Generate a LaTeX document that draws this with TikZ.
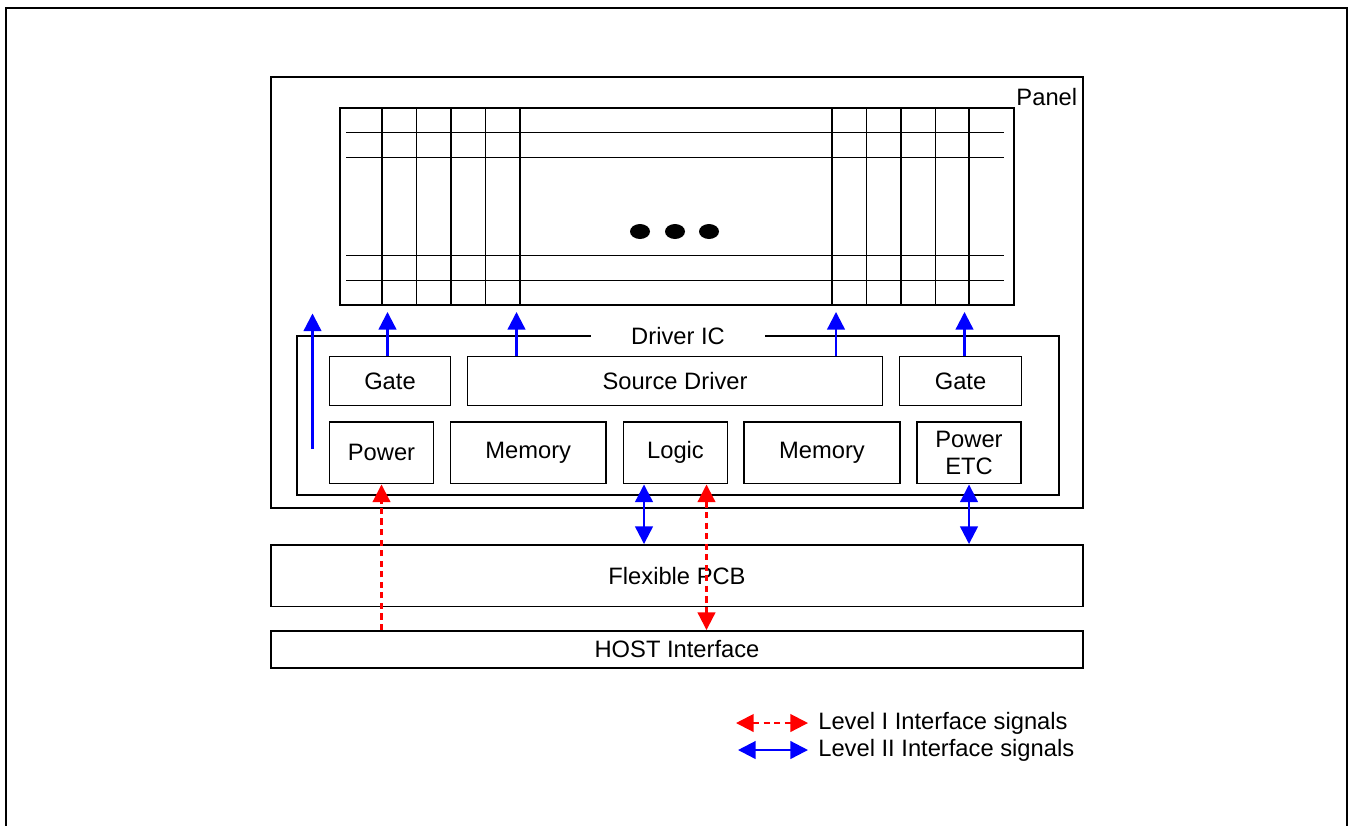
\documentclass[tikz,border=0pt]{standalone}
\usepackage{fontspec}
\setmainfont{Liberation Sans}
\usetikzlibrary{positioning,arrows.meta}

\begin{document}
\begin{tikzpicture}[
  every node/.style={font=\fontsize{13.5}{15.5}\selectfont, align=center},
  box/.style={draw, line width=1.1pt, inner sep=0pt},
  frame/.style={line width=1.3pt},
  gridline/.style={line width=1.1pt},
  tip/.tip={Triangle[length=10pt,width=10pt]},
  up/.style={-tip, blue, line width=1.3pt, shorten >=1.2mm},
  lvltwo/.style={tip-tip, blue, line width=1.3pt},
  lvlone/.style={tip-tip, red, line width=1.2pt, dash pattern=on 3.5pt off 2.5pt}
]
  \useasboundingbox (0,0) rectangle (27.06,-16.5);
  \draw[frame] (0.12,-16.7) |- (26.94,-0.16) -- (26.94,-16.7);

  % panel with pixel matrix
  \node[box, minimum width=16.24cm, minimum height=8.62cm] (panel) at (13.54,-5.85) {};
  \node[anchor=east, inner sep=0pt] (panellabel) at (21.55,-1.94) {Panel};
  \node[box, minimum width=13.48cm, minimum height=3.94cm] (grid) at (13.54,-4.13) {};
  \foreach \x in {7.64,8.33,9.02,9.71,10.40,16.64,17.33,18.02,18.71,19.38}
    \draw[gridline] (\x,0 |- grid.north) -- (\x,0 |- grid.south);
  \foreach \y in {-2.65,-3.15,-5.11,-5.61}
    \draw[gridline] (6.92,\y) -- (20.08,\y);
  \foreach \x in {12.80,13.50,14.18}
    \fill (\x,-4.63) ellipse (0.2 and 0.15);

  % driver IC
  \node[minimum width=15.24cm, minimum height=3.16cm, inner sep=0pt] (ic) at (13.56,-8.31) {};
  \node[minimum width=3.48cm, inner sep=0pt] (iclabel) at (ic.north) {Driver IC};
  \draw[line width=1.1pt] (iclabel.west) -| (ic.south west) -| (ic.north east) -- (iclabel.east);

  \node[box, minimum width=2.42cm, minimum height=0.98cm] (gateL) at (7.80,-7.62) {Gate};
  \node[box, minimum width=8.30cm, minimum height=0.98cm] (src) at (13.50,-7.62) {Source Driver};
  \node[box, minimum width=2.44cm, minimum height=0.98cm] (gateR) at (19.21,-7.62) {Gate};
  \node[box, minimum width=2.08cm, minimum height=1.23cm] (power) at (7.63,-9.055) {Power};
  \node[box, minimum width=3.11cm, minimum height=1.23cm] (memL) at (10.565,-9.055) {Memory};
  \node[box, minimum width=2.08cm, minimum height=1.23cm] (logic) at (13.51,-9.055) {Logic};
  \node[box, minimum width=3.11cm, minimum height=1.23cm] (memR) at (16.44,-9.055) {Memory};
  \node[box, minimum width=2.09cm, minimum height=1.23cm] (poweretc) at (19.38,-9.055) {Power\\ETC};

  \node[box, minimum width=16.24cm, minimum height=1.23cm] (fpcb) at (13.54,-11.515) {Flexible PCB};
  \node[box, minimum width=16.24cm, minimum height=0.74cm] (host) at (13.54,-12.99) {HOST Interface};

  % signals into the panel
  \coordinate (vstart) at (6.25,-8.98);
  \draw[up, shorten >=1.5mm] (vstart) -- (vstart |- grid.south);
  \draw[up] ([xshift=-0.05cm]gateL.north) -- ([xshift=-0.05cm]gateL.north |- grid.south);
  \draw[up] ([xshift=-3.17cm]src.north) -- ([xshift=-3.17cm]src.north |- grid.south);
  \draw[up] ([xshift=3.22cm]src.north) -- ([xshift=3.22cm]src.north |- grid.south);
  \draw[up] ([xshift=0.08cm]gateR.north) -- ([xshift=0.08cm]gateR.north |- grid.south);

  % interface signals
  \draw[lvlone, {}-tip] (host.north -| power.south) -- (power.south);
  \draw[lvltwo] ([xshift=-0.63cm]logic.south) -- ([xshift=-0.63cm]logic.south |- fpcb.north);
  \draw[lvlone] ([xshift=0.62cm]logic.south) -- ([xshift=0.62cm]logic.south |- host.north);
  \draw[lvltwo] (poweretc.south) -- (poweretc.south |- fpcb.north);

  % legend
  \coordinate (key1) at (14.72,-14.46);
  \coordinate (key2) at (14.76,-15.00);
  \node[right=1.64cm of key1, inner sep=0pt] (lvl1) {Level I Interface signals};
  \node[right=1.60cm of key2, inner sep=0pt] (lvl2) {Level II Interface signals};
  \draw[lvlone] (key1) -- ([xshift=-0.2cm]lvl1.west);
  \draw[lvltwo] (key2) -- ([xshift=-0.2cm]lvl2.west);
\end{tikzpicture}
\end{document}
